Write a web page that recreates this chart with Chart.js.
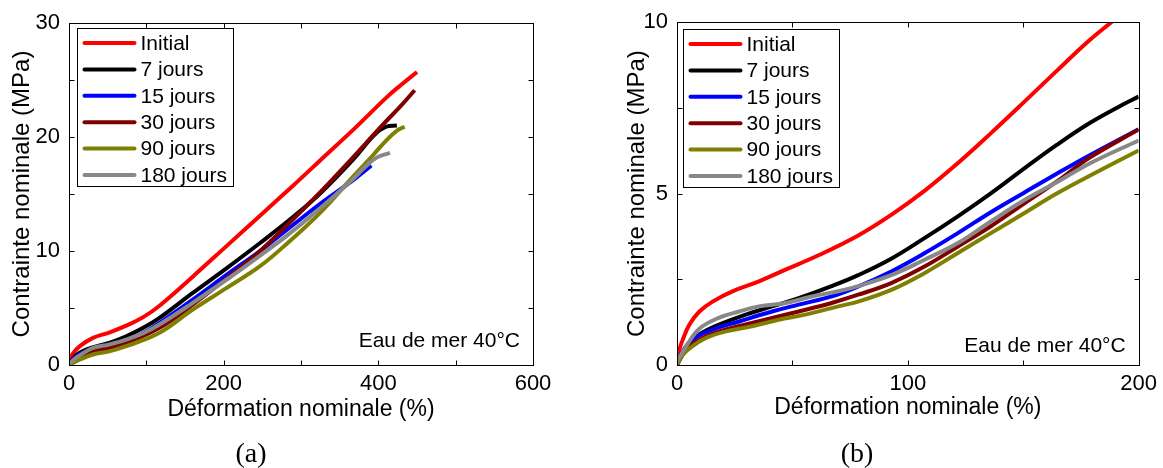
<!DOCTYPE html>
<html>
<head>
<meta charset="utf-8">
<script src="https://cdn.jsdelivr.net/npm/chart.js@4.4.0/dist/chart.umd.min.js"></script>
<style>
  body { margin: 0; background: #fff; }
  #wrap { position: relative; width: 1163px; height: 468px; }
  canvas { position: absolute; top: 0; }
  #chartA { left: 0; }
  #chartB { left: 580px; }
  .cap { position: absolute; top: 437px; line-height: 32px; font: 28px 'Liberation Serif', serif; transform: translateX(-50%); }
</style>
</head>
<body>
<div id="wrap">
  <canvas id="chartA" width="580" height="468"></canvas>
  <canvas id="chartB" width="583" height="468"></canvas>
  <div class="cap" style="left:251px">(a)</div>
  <div class="cap" style="left:857px">(b)</div>
</div>
<script>
const labels = ['Initial', '7 jours', '15 jours', '30 jours', '90 jours', '180 jours']
const colors = ['#ff0000', '#000000', '#0000ff', '#800000', '#808000', '#888888']

// (a) full curves, strain (%) / stress (MPa)
const aInitialX = [0, 5, 14, 31, 52, 74, 96, 117, 160, 204, 247, 290, 324, 367, 411, 430, 450]
const aInitialY = [0.3, 1.0, 1.65, 2.38, 2.85, 3.45, 4.2, 5.2, 7.75, 10.45, 13.1, 15.75, 17.9, 20.6, 23.5, 24.6, 25.7]
const a7X = [0, 8, 22, 52, 74, 96, 117, 160, 204, 247, 290, 324, 367, 395, 410, 424]
const a7Y = [0, 0.8, 1.36, 1.94, 2.52, 3.26, 4.13, 6.32, 8.5, 10.7, 13.0, 15.0, 18.0, 20.2, 20.9, 21.0]
const a15X = [0, 8, 22, 52, 74, 96, 117, 160, 204, 247, 264, 290, 324, 367, 391]
const a15Y = [0, 0.7, 1.2, 1.7, 2.2, 2.82, 3.7, 5.74, 7.93, 10.0, 10.9, 12.3, 14.1, 16.2, 17.5]
const a30X = [0, 8, 31, 52, 74, 117, 160, 204, 242, 281, 324, 367, 402, 430, 447]
const a30Y = [0, 0.6, 1.2, 1.5, 1.94, 3.26, 5.3, 7.6, 9.7, 12.2, 15.1, 18.2, 20.8, 22.8, 24.1]
const a90X = [0, 14, 31, 52, 74, 117, 160, 204, 247, 281, 324, 367, 393, 411, 425, 434]
const a90Y = [0, 0.48, 0.92, 1.2, 1.65, 2.82, 4.86, 6.77, 8.67, 10.6, 13.3, 16.5, 18.4, 19.75, 20.6, 20.9]
const a180X = [0, 5, 14, 31, 52, 74, 96, 117, 160, 204, 247, 281, 324, 367, 385, 398, 415]
const a180Y = [0, 0.4, 0.85, 1.5, 1.8, 2.23, 2.8, 3.55, 5.45, 7.5, 9.6, 11.3, 13.7, 16.3, 17.5, 18.2, 18.6]

// (b) zoom on 0-200 %
const bInitialX = [0, 2.5, 5.4, 9.7, 15.4, 24, 35.5, 47, 61.3, 78.5, 92.8, 107.2, 121.5, 135.8, 150.2, 164.5, 178.8, 190.3, 200]
const bInitialY = [0.26, 0.74, 1.18, 1.56, 1.85, 2.15, 2.44, 2.78, 3.2, 3.78, 4.38, 5.08, 5.88, 6.75, 7.66, 8.58, 9.48, 10.12, 10.7]
const b7X = [0, 4, 9.7, 18.3, 29.8, 41.2, 52.7, 67, 78.5, 92.8, 107.2, 121.5, 135.8, 150.2, 164.5, 178.8, 193.2, 200]
const b7Y = [0, 0.55, 0.89, 1.18, 1.47, 1.71, 1.95, 2.3, 2.62, 3.1, 3.7, 4.33, 5.0, 5.72, 6.42, 7.06, 7.6, 7.83]
const b15X = [0, 2, 6.8, 15.4, 26.9, 41.2, 52.7, 67, 78.5, 92.8, 107.2, 121.5, 135.8, 150.2, 164.5, 178.8, 200]
const b15Y = [0, 0.35, 0.74, 1.03, 1.27, 1.56, 1.76, 2.0, 2.29, 2.73, 3.26, 3.84, 4.45, 5.02, 5.58, 6.12, 6.88]
const b30X = [0, 4, 9.7, 18.3, 29.8, 41.2, 52.7, 67, 78.5, 92.8, 107.2, 121.5, 135.8, 150.2, 164.5, 178.8, 200]
const b30Y = [0, 0.45, 0.74, 0.98, 1.18, 1.37, 1.56, 1.81, 2.05, 2.39, 2.87, 3.45, 4.04, 4.7, 5.35, 6.05, 6.87]
const b90X = [0, 2.5, 6.8, 12.6, 21.2, 32.6, 44, 55.6, 69.9, 78.5, 92.8, 107.2, 121.5, 135.8, 150.2, 164.5, 178.8, 200]
const b90Y = [0, 0.3, 0.55, 0.79, 0.98, 1.13, 1.32, 1.47, 1.71, 1.85, 2.19, 2.68, 3.26, 3.84, 4.42, 5.0, 5.52, 6.26]
const b180X = [0, 4, 9.7, 18.3, 26.9, 35.5, 47, 58.4, 69.9, 78.5, 92.8, 107.2, 121.5, 135.8, 150.2, 164.5, 178.8, 200]
const b180Y = [0.1, 0.55, 1.06, 1.38, 1.56, 1.71, 1.81, 2.0, 2.15, 2.3, 2.62, 3.07, 3.55, 4.18, 4.8, 5.33, 5.88, 6.55]

const seriesA = [[aInitialX, aInitialY], [a7X, a7Y], [a15X, a15Y], [a30X, a30Y], [a90X, a90Y], [a180X, a180Y]]
const seriesB = [[bInitialX, bInitialY], [b7X, b7Y], [b15X, b15Y], [b30X, b30Y], [b90X, b90Y], [b180X, b180Y]]

const note = 'Eau de mer 40°C'
const sans = "'Liberation Sans', Arial, sans-serif"

Chart.defaults.font.family = sans
Chart.defaults.color = '#000'

// frame with inward ticks, boxed legend and the text note
const decor = {
  id: 'decor',
  afterDraw(chart, args, opts) {
    const { ctx, chartArea: ca, scales } = chart
    const L = Math.round(ca.left) + 0.5, R = Math.round(ca.right) + 0.5
    const T = Math.round(ca.top) + 0.5, B = Math.round(ca.bottom) + 0.5
    ctx.save()
    ctx.strokeStyle = '#000'
    ctx.lineWidth = 1
    ctx.strokeRect(L, T, R - L, B - T)
    ctx.beginPath()
    scales.x.ticks.forEach(t => {
      const px = Math.round(scales.x.getPixelForValue(t.value)) + 0.5
      ctx.moveTo(px, B); ctx.lineTo(px, B - opts.tickLen)
      ctx.moveTo(px, T); ctx.lineTo(px, T + opts.tickLen)
    })
    scales.y.ticks.forEach(t => {
      const py = Math.round(scales.y.getPixelForValue(t.value)) + 0.5
      ctx.moveTo(L, py); ctx.lineTo(L + opts.tickLen, py)
      ctx.moveTo(R, py); ctx.lineTo(R - opts.tickLen, py)
    })
    ctx.stroke()

    // legend
    const bx = Math.round(ca.left + opts.legendDx) + 0.5
    const by = Math.round(ca.top + opts.legendDy) + 0.5
    ctx.fillStyle = '#fff'
    ctx.fillRect(bx, by, 156, 158)
    ctx.strokeRect(bx, by, 156, 158)
    ctx.font = '21px ' + sans
    ctx.textBaseline = 'middle'
    ctx.textAlign = 'left'
    chart.data.datasets.forEach((ds, i) => {
      const yy = by + 14.5 + i * 26.4
      ctx.strokeStyle = ds.borderColor
      ctx.lineWidth = 4
      ctx.lineCap = 'round'
      ctx.beginPath()
      ctx.moveTo(bx + 7, yy); ctx.lineTo(bx + 57, yy)
      ctx.stroke()
      ctx.fillStyle = '#000'
      ctx.fillText(ds.label, bx + 63, yy + 1)
    })

    // note
    ctx.textAlign = 'right'
    ctx.fillText(note, ca.right - 13, ca.bottom - opts.noteDy)
    ctx.restore()
  }
}

function makeChart(id, series, o) {
  const datasets = series.map((s, i) => ({
    label: labels[i],
    data: s[0].map((x, k) => ({ x: x, y: s[1][k] })),
    borderColor: colors[i],
    borderWidth: 4,
    pointRadius: 0,
    tension: 0.4,
    order: labels.length - i
  }))
  return new Chart(document.getElementById(id), {
    type: 'line',
    data: { datasets: datasets },
    plugins: [decor],
    options: {
      responsive: false,
      animation: false,
      events: [],
      layout: { padding: { left: 0, right: o.padRight, top: o.padTop, bottom: 0 } },
      plugins: {
        legend: { display: false },
        tooltip: { enabled: false },
        decor: { tickLen: 5, legendDx: o.legendDx, legendDy: o.legendDy, noteDy: o.noteDy }
      },
      scales: {
        x: {
          type: 'linear', min: 0, max: o.xMax,
          grid: { display: false, drawTicks: false },
          border: { display: false },
          ticks: {
            stepSize: o.xStep, autoSkip: false, maxRotation: 0, padding: 6,
            font: { size: 22 },
            callback: v => (v % o.xLabelStep === 0 ? v : '')
          },
          title: { display: true, text: 'Déformation nominale (%)', font: { size: 23 }, padding: { bottom: o.xTitlePad } },
          afterFit: s => { s.height = 103 }
        },
        y: {
          type: 'linear', min: 0, max: o.yMax,
          grid: { display: false, drawTicks: false },
          border: { display: false },
          ticks: {
            stepSize: o.yStep, autoSkip: false, padding: 9,
            font: { size: 22 },
            callback: v => (v % o.yLabelStep === 0 ? v : '')
          },
          title: { display: true, text: 'Contrainte nominale (MPa)', font: { size: 24 }, padding: { top: o.yTitlePad } },
          afterFit: s => { s.width = o.yAxisW }
        }
      }
    }
  })
}

makeChart('chartA', seriesA, {
  xMax: 600, xStep: 100, xLabelStep: 200,
  yMax: 30, yStep: 5, yLabelStep: 10,
  yAxisW: 69, padRight: 47, padTop: 23,
  xTitlePad: 45, yTitlePad: 8,
  legendDx: 8, legendDy: 5, noteDy: 24
})

makeChart('chartB', seriesB, {
  xMax: 200, xStep: 50, xLabelStep: 100,
  yMax: 10, yStep: 2.5, yLabelStep: 5,
  yAxisW: 97, padRight: 21, padTop: 22,
  xTitlePad: 47, yTitlePad: 43,
  legendDx: 6, legendDy: 7, noteDy: 19
})
</script>
</body>
</html>
